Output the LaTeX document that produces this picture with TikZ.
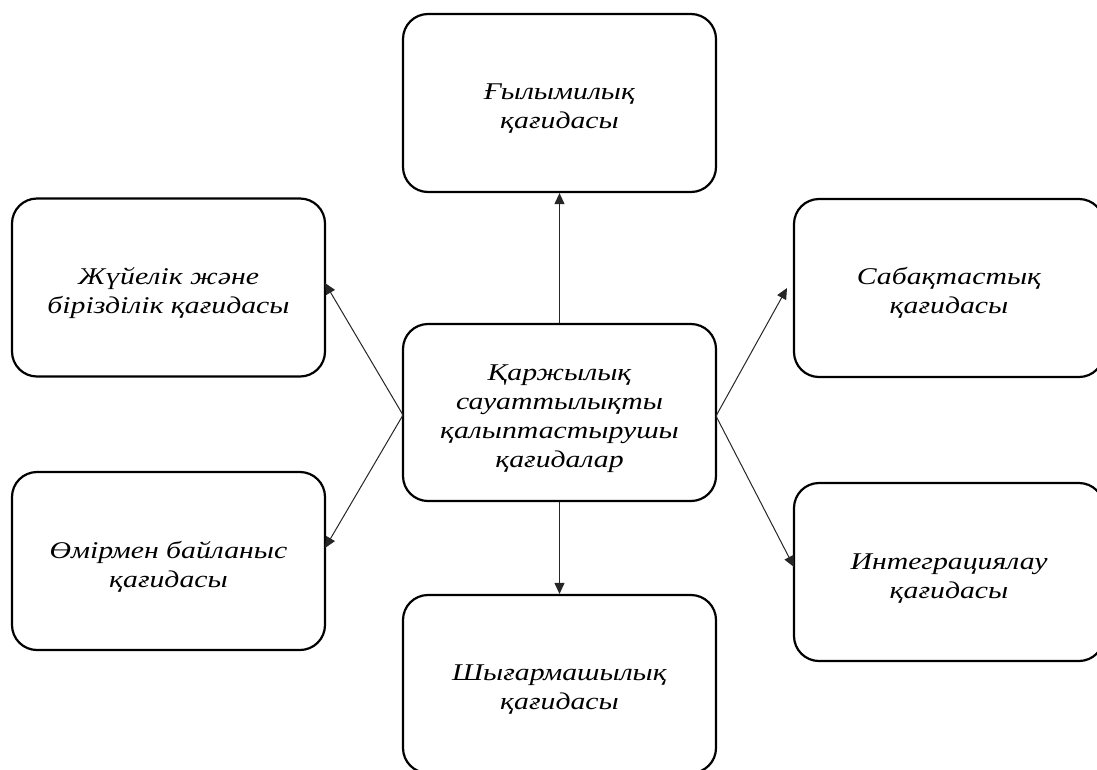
\documentclass[tikz,border=0pt]{standalone}
\usepackage{fontspec}
\setmainfont{Liberation Serif}
\newfontfamily\boxfont[FakeStretch=1.24]{Liberation Serif}
\usetikzlibrary{arrows.meta}
\tikzset{
  box/.style={draw, line width=2.2pt, rounded corners=25pt, minimum width=313pt, minimum height=178pt, inner sep=0pt},
  txt/.style={inner sep=0pt, align=center, font=\boxfont\fontsize{24}{29}\selectfont\itshape},
  arr/.style={line width=1pt, draw=black!85, -{Triangle[length=11pt,width=10pt]}}
}
\begin{document}
\begin{tikzpicture}[x=1pt,y=-1pt]
\clip (0,0) rectangle (1097,769);
\node[box] (top) at (559.5,103) {};
\node[box, minimum height=177pt] (c) at (559.5,412.5) {};
\node[box] (bot) at (559.5,684) {};
\node[box] (lt) at (168.5,287.5) {};
\node[box] (lb) at (168.5,561) {};
\node[box, minimum width=310pt] (rt) at (949,288) {};
\node[box, minimum width=310pt] (rb) at (949,572) {};
\node[txt] (topt) at ([yshift=-6pt]top.center) {Ғылымилық\\қағидасы};
\node[txt] (ct) at ([yshift=-6pt]c.center) {Қаржылық\\сауаттылықты\\қалыптастырушы\\қағидалар};
\node[txt] (bott) at ([yshift=-6pt]bot.center) {Шығармашылық\\қағидасы};
\node[txt] (ltt) at ([yshift=-6pt]lt.center) {Жүйелік және\\бірізділік қағидасы};
\node[txt] (lbt) at ([yshift=-6pt]lb.center) {Өмірмен байланыс\\қағидасы};
\node[txt] (rtt) at ([yshift=-5pt]rt.center) {Сабақтастық\\қағидасы};
\node[txt] (rbt) at ([yshift=-7pt]rb.center) {Интеграциялау\\қағидасы};
\coordinate (cl) at (403,415);
\coordinate (cr) at (716,416);
\coordinate (ltend) at (325,283);
\coordinate (lbend) at (325,548);
\coordinate (rtend) at (787,288);
\coordinate (rbend) at (794,567);
\draw[arr] (c.north) -- (top.south);
\draw[arr] (c.south) -- (bot.north);
\draw[arr] (cl) -- (ltend);
\draw[arr] (cl) -- (lbend);
\draw[arr] (cr) -- (rtend);
\draw[arr] (cr) -- (rbend);
\end{tikzpicture}
\end{document}
